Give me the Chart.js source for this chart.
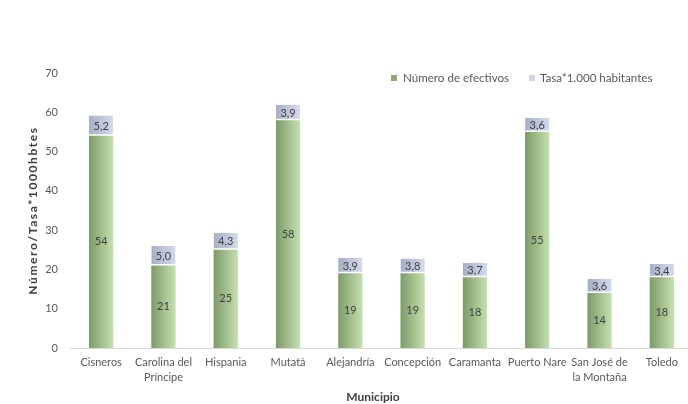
<!DOCTYPE html>
<html>
<head>
<meta charset="utf-8">
<script src="https://cdn.jsdelivr.net/npm/chart.js@4/dist/chart.umd.min.js"></script>
<style>
  html, body { margin: 0; padding: 0; background: #fff; overflow: hidden; }
  #wrap { width: 688px; height: 404px; overflow: hidden; }
  #inner { width: 694px; height: 404px; position: relative; }
</style>
</head>
<body>
<div id="wrap"><div id="inner"><canvas id="myChart"></canvas></div></div>
<script>
// datos del gráfico
const municipios = ['Cisneros', ['Carolina del', 'Príncipe'], 'Hispania', 'Mutatá', 'Alejandría',
  'Concepción', 'Caramanta', 'Puerto Nare', ['San José de', 'la Montaña'], 'Toledo'];
const efectivos = [54, 21, 25, 58, 19, 19, 18, 55, 14, 18];
const tasa = [5.2, 5.0, 4.3, 3.9, 3.9, 3.8, 3.7, 3.6, 3.6, 3.4];
const yTicks = [0, 10, 20, 30, 40, 50, 60, 70];

const FONT = 'Lato, "Open Sans", sans-serif';
const BAR_PCT = 0.39;
const GREEN = ['#7d9a69', '#c6e1b0'];
const BLUE = ['#a6afc4', '#d3dcee'];

// degradado horizontal para cada barra
function barGradient(ctx, cols) {
  const chart = ctx.chart;
  const xs = chart.scales.x;
  if (!xs || !chart.chartArea) return cols[1];
  const cx = xs.getPixelForValue(ctx.dataIndex);
  const w = (chart.chartArea.right - chart.chartArea.left) / municipios.length * BAR_PCT;
  const g = chart.ctx.createLinearGradient(cx - w / 2, 0, cx + w / 2, 0);
  g.addColorStop(0, cols[0]);
  g.addColorStop(1, cols[1]);
  return g;
}

// etiquetas de valores, títulos de ejes y leyenda
const extras = {
  id: 'extras',
  afterDatasetsDraw(chart) {
    const c = chart.ctx;
    const area = chart.chartArea;
    c.save();
    c.font = '11px ' + FONT;
    c.textAlign = 'center';
    c.textBaseline = 'middle';
    c.fillStyle = '#404040';
    chart.getDatasetMeta(0).data.forEach((bar, i) => {
      c.fillText(String(efectivos[i]), bar.x, (bar.y + bar.base) / 2);
    });
    chart.getDatasetMeta(1).data.forEach((bar, i) => {
      const txt = tasa[i].toFixed(1).replace('.', ',');
      c.fillText(txt, bar.x, (bar.y + bar.base) / 2 + 0.5);
    });

    // título eje Y
    c.save();
    c.translate(33, (area.top + area.bottom) / 2);
    c.rotate(-Math.PI / 2);
    c.font = 'bold 12px ' + FONT;
    c.letterSpacing = '1.6px';
    c.fillStyle = '#404040';
    c.fillText('Número/Tasa*1000hbtes', 0, 0);
    c.restore();

    // título eje X
    c.font = 'bold 12px ' + FONT;
    c.fillStyle = '#404040';
    c.fillText('Municipio', 373, 397);

    // leyenda
    c.font = '11.6px ' + FONT;
    c.textAlign = 'left';
    c.fillStyle = '#8faa78';
    c.fillRect(391, 75, 6, 6);
    c.fillStyle = '#595959';
    c.fillText(chart.data.datasets[0].label, 403, 78.5);
    c.fillStyle = '#cdd5e6';
    c.fillRect(529, 75, 6, 6);
    c.fillStyle = '#595959';
    c.fillText(chart.data.datasets[1].label, 540, 78.5);
    c.restore();
  }
};

const ctx = document.getElementById('myChart').getContext('2d');
new Chart(ctx, {
  type: 'bar',
  data: {
    labels: municipios,
    datasets: [{
      label: 'Número de efectivos',
      data: efectivos,
      backgroundColor: (c) => barGradient(c, GREEN),
      borderWidth: 0,
      barPercentage: BAR_PCT,
      categoryPercentage: 1
    }, {
      label: 'Tasa*1.000 habitantes',
      data: tasa,
      backgroundColor: (c) => barGradient(c, BLUE),
      borderColor: '#ffffff',
      borderWidth: { bottom: 1.5, top: 0, left: 0, right: 0 },
      borderSkipped: false,
      barPercentage: BAR_PCT,
      categoryPercentage: 1
    }]
  },
  options: {
    responsive: true,
    maintainAspectRatio: false,
    animation: false,
    layout: { padding: { top: 73, right: 1, left: 0, bottom: 0 } },
    scales: {
      x: {
        stacked: true,
        afterFit: (s) => { s.height = 56; },
        grid: { display: false, drawTicks: false },
        border: { display: true, color: '#d9d9d9' },
        ticks: { color: '#595959', font: { family: FONT, size: 11, lineHeight: 1.45 }, maxRotation: 0, autoSkip: false, padding: 6 }
      },
      y: {
        stacked: true,
        min: 0, max: 70,
        afterFit: (s) => { s.width = 70; },
        afterBuildTicks: (axis) => { axis.ticks = yTicks.map(v => ({ value: v })); },
        grid: { display: false, drawTicks: false },
        border: { display: false },
        ticks: { color: '#595959', font: { family: FONT, size: 11 }, padding: 12 }
      }
    },
    plugins: {
      legend: { display: false },
      tooltip: { enabled: false }
    }
  },
  plugins: [extras]
});
</script>
</body>
</html>
